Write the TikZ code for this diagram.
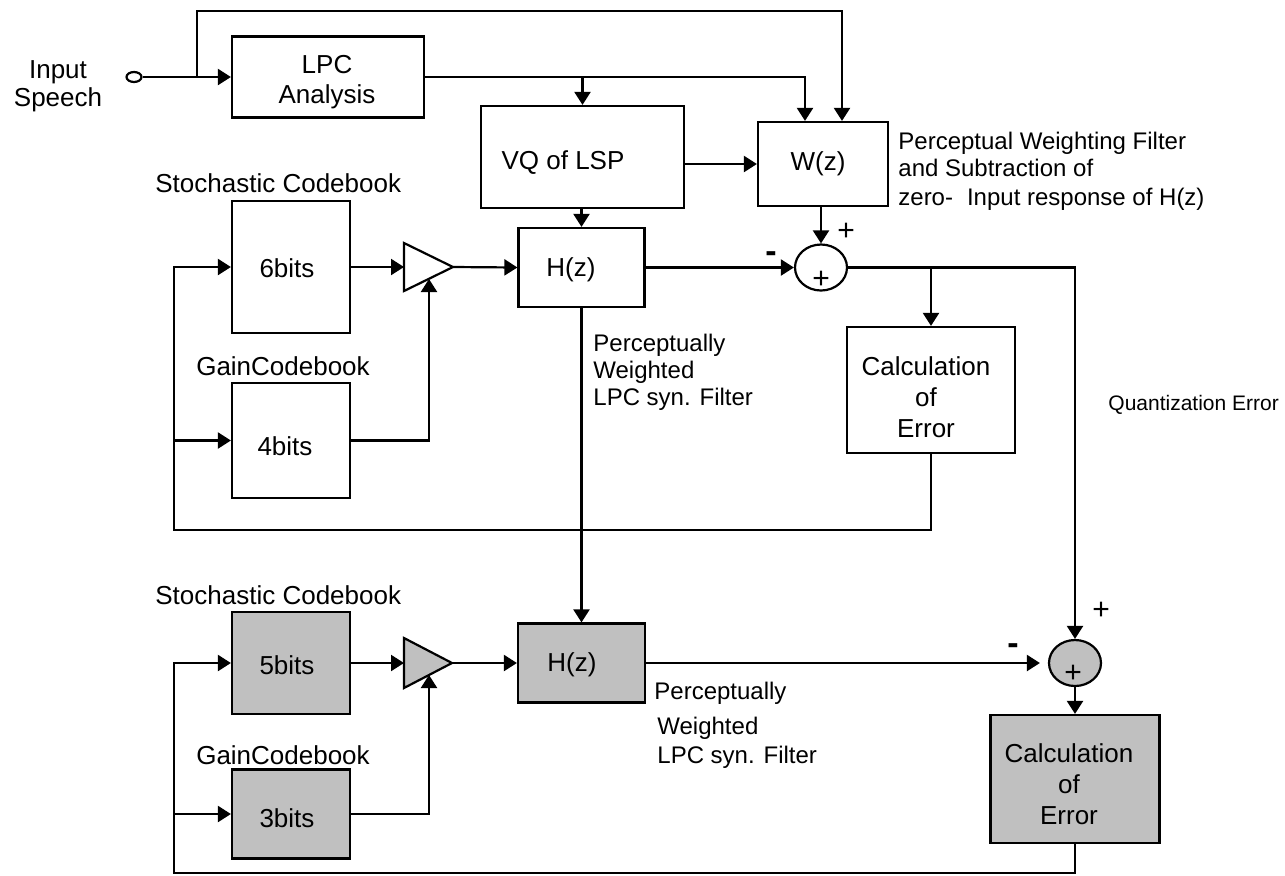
\documentclass[tikz,border=0pt]{standalone}
\usepackage{fontspec}
\setmainfont{Liberation Sans}
\usetikzlibrary{arrows.meta,shapes.geometric}
\definecolor{boxgray}{RGB}{192,192,192}
\newcommand\mainsize{\fontsize{13}{15.5}\selectfont}
\newcommand\lblsize{\fontsize{12}{13.5}\selectfont}
\begin{document}
\begin{tikzpicture}[x=0.5pt,y=-0.5pt,
  box/.style={draw,line width=1.1pt,inner sep=0pt},
  gbox/.style={box,fill=boxgray},
  txt/.style={inner sep=0pt,font=\mainsize,align=center},
  lbl/.style={inner sep=0pt,font=\lblsize,anchor=west,align=left},
  sign/.style={inner sep=0pt,font=\fontsize{15}{15}\selectfont},
  minus/.style={inner sep=0pt,font=\fontsize{17}{17}\selectfont\bfseries},
  ln/.style={line width=1.1pt},
  arr/.style={ln,-{Triangle[length=6.5pt,width=8pt]}},
  sumc/.style={ellipse,draw,line width=1.1pt,inner sep=0pt,minimum width=26pt,minimum height=23pt},
]
\useasboundingbox (0,0) rectangle (1285,875);

% ---------- input ----------
\node[txt,font=\fontsize{13}{14}\selectfont] (inlbl) at (58,86) {Input\\Speech};
\node[ellipse,draw,line width=1.1pt,inner sep=0pt,minimum width=7.5pt,minimum height=5pt] (in) at (134,77) {};

% ---------- upper blocks ----------
\node[box,minimum width=96pt,minimum height=40.5pt] (lpc) at (328,77) {};
\node[txt,font=\fontsize{13}{15}\selectfont] (lpct) at (327,82) {LPC\\Analysis};

\node[box,minimum width=101.5pt,minimum height=51pt] (vq) at (582.5,157) {};
\node[txt] (vqt) at (563,163) {VQ of LSP};

\node[box,minimum width=65pt,minimum height=42pt] (w) at (823,164) {};
\node[txt] (wt) at (818,164) {W(z)};

\node[lbl] (wl1) at (898,143) {Perceptual Weighting Filter};
\node[lbl] (wl2) at (898,168) {and Subtraction of};
\node[lbl] (wl3) at (898,199) {zero-\hspace{7pt}Input response of H(z)};

\node[txt,anchor=west] (sc1) at (155,183) {Stochastic Codebook};
\node[box,minimum width=59pt,minimum height=66pt] (b6) at (291,267) {};
\node[txt] (b6t) at (287,268) {6bits};

\node[txt] (gc1) at (283,366) {GainCodebook};
\node[box,minimum width=59pt,minimum height=57.5pt] (b4) at (291,440.5) {};
\node[txt] (b4t) at (285,446) {4bits};

\draw[ln] (404,243) -- (453,267) -- (404,291) -- cycle;
\coordinate (a1i) at (404,267);
\coordinate (a1o) at (453,267);
\coordinate (a1b) at (429,279);

\node[box,minimum width=63pt,minimum height=39.5pt] (h1) at (581.5,267.5) {};
\node[txt] (h1t) at (571,270) {H(z)};

\node[lbl,align=left] (pw1) at (593,372) {Perceptually\\Weighted\\LPC syn. Filter};

\node[sumc] (s1) at (821,267.5) {};
\node[sign] (s1in) at (821,280) {+};
\node[sign] (s1p) at (846,232) {+};
\node[minus] (s1m) at (771,257) {-};

\node[box,minimum width=84pt,minimum height=63pt] (c1) at (931,390) {};
\node[txt] (c1t) at (926,397) {Calculation\\of\\Error};

\node[inner sep=0pt,anchor=west,font=\fontsize{10.5}{12}\selectfont] (qe) at (1108,405) {Quantization Error};

% ---------- lower blocks ----------
\node[txt,anchor=west] (sc2) at (155,595) {Stochastic Codebook};
\node[gbox,minimum width=59pt,minimum height=51pt] (b5) at (291,663) {};
\node[txt] (b5t) at (287,665) {5bits};

\node[txt] (gc2) at (283,755) {GainCodebook};
\node[gbox,minimum width=59pt,minimum height=44.5pt] (b3) at (291,814) {};
\node[txt] (b3t) at (287,818) {3bits};

\draw[ln,fill=boxgray] (404,638) -- (452,663) -- (404,688) -- cycle;
\coordinate (a2i) at (404,663);
\coordinate (a2o) at (452,663);
\coordinate (a2b) at (429,675);

\node[gbox,minimum width=63.5pt,minimum height=39.5pt] (h2) at (581.5,663) {};
\node[txt] (h2t) at (572,665) {H(z)};

\node[lbl] (pl1) at (654,693) {Perceptually};
\node[lbl] (pl2) at (657,728) {Weighted};
\node[lbl] (pl3) at (657,757) {LPC syn. Filter};

\node[sumc,fill=boxgray] (s2) at (1075,663) {};
\node[sign] (s2in) at (1073,674) {+};
\node[sign] (s2p) at (1101,611) {+};
\node[minus] (s2m) at (1013,649) {-};

\node[gbox,minimum width=84.5pt,minimum height=64pt] (c2) at (1075,779) {};
\node[txt] (c2t) at (1069,784) {Calculation\\of\\Error};

% ---------- connectors (upper) ----------
\coordinate (j1) at (197,77);
\coordinate (top) at (842,11);
\draw[arr] (in.east) -- (lpc.west);
\draw[arr] (j1) |- (top) -- (top |- w.north);
\draw[arr] (lpc.east) -| ([xshift=-9pt]w.north);
\draw[arr] (vq.north |- lpc.east) -- (vq.north);
\draw[arr] (w.west -| vq.east) -- (w.west);
\draw[arr] (h1.north |- vq.south) -- (h1.north);
\draw[arr] (s1.north |- w.south) -- (s1.north);
\draw[arr] (b6.east) -- (a1i);
\draw[arr] (a1o) -- (h1.west);
\draw[arr] (b4.east) -| (a1b);
\draw[arr] (h1.east) -- (s1.west);
\draw[arr] (s1.east) -| (s2.north);
\draw[arr] (c1.north |- s1.east) -- (c1.north);
\coordinate (fb1) at (174,530);
\draw[arr] (c1.south) |- (fb1) |- (b6.west);
\draw[arr] (fb1 |- b4.west) -- (b4.west);

% ---------- connectors (lower) ----------
\draw[arr] (h1.south) -- (h2.north);
\draw[arr] (b5.east) -- (a2i);
\draw[arr] (a2o) -- (h2.west);
\draw[arr] (b3.east) -| (a2b);
\draw[arr] (h2.east) -- ([xshift=-4pt]s2.west);
\draw[arr] (s2.south) -- (s2.south |- c2.north);
\coordinate (fb2) at (174,873);
\draw[arr] (c2.south) |- (fb2) |- (b5.west);
\draw[arr] (fb2 |- b3.west) -- (b3.west);
\end{tikzpicture}
\end{document}
